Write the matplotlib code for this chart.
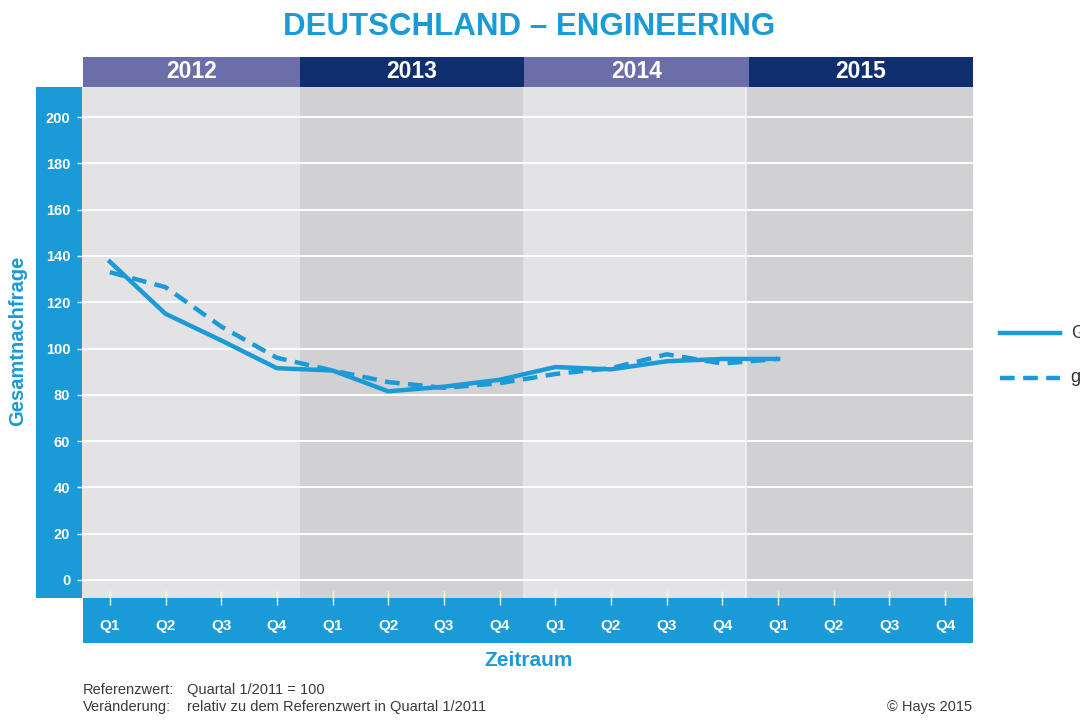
import matplotlib.pyplot as plt
from matplotlib.patches import Rectangle
from matplotlib.lines import Line2D

plt.rcParams['font.family'] = ['Liberation Sans', 'DejaVu Sans']

# Daten
jahre = ['2012', '2013', '2014', '2015']
quartale = ['Q1', 'Q2', 'Q3', 'Q4'] * 4
gesamt = [137.5, 115, 103.5, 91.5, 90.5, 81.5, 83.5, 86.5, 92, 91, 94.5, 95.5, 95.5]
gleitend = [133, 126.5, 109.5, 96, 90.5, 85.5, 83, 85, 89, 91.5, 97.5, 93.5, 95.5]
y_ticks = [0, 20, 40, 60, 80, 100, 120, 140, 160, 180, 200]

blau = '#1a9ad7'
kopf_farben = ['#6b6ea8', '#0f2f6f', '#6b6ea8', '#0f2f6f']
band_farben = ['#e3e3e5', '#d1d1d3', '#e3e3e5', '#d1d1d3']

W, H = 1080, 720
fig = plt.figure(figsize=(W / 100, H / 100), dpi=100)

def fx(x):
    return x / W

def fy(y):
    return 1 - y / H

# Plotbereich: x 82..973, y 87..598
ax = fig.add_axes([fx(82), fy(598), fx(973) - fx(82), fy(87) - fy(598)])
ax.set_xlim(-0.5, 15.5)
ax.set_ylim(-7.8, 213)

for i, farbe in enumerate(band_farben):
    links = -0.5 if i == 0 else i * 4 - 0.58
    rechts = 15.5 if i == 3 else i * 4 + 3.42
    ax.axvspan(links, rechts, color=farbe, zorder=0, lw=0)

for t in y_ticks:
    ax.axhline(t, color='white', lw=1.4, zorder=1)
ax.axvline(11.42, color='#f2f2f2', lw=1.2, zorder=1)

ax.plot(range(len(gesamt)), gesamt, color=blau, lw=3.2, zorder=3,
        solid_joinstyle='round')
ax.plot(range(len(gleitend)), gleitend, color=blau, lw=3.2, zorder=3,
        dashes=(3.3, 1.9))

for s in ax.spines.values():
    s.set_visible(False)

ax.set_yticks(y_ticks)
ax.set_yticklabels([str(t) for t in y_ticks], color='white',
                   fontweight='bold', fontsize=10.5)
ax.tick_params(axis='y', direction='inout', length=7, width=1,
               color='white', pad=5)
ax.set_xticks(range(16))
ax.set_xticklabels(quartale, color='white', fontweight='bold', fontsize=11)
ax.tick_params(axis='x', direction='inout', length=10, width=1,
               color='white', pad=10)

# blaue Balken links und unten
fig.add_artist(Rectangle((fx(36), fy(598)), fx(82) - fx(36), fy(87) - fy(598),
                         transform=fig.transFigure, color=blau, zorder=-1, lw=0))
fig.add_artist(Rectangle((fx(83), fy(643)), fx(973) - fx(83), fy(598) - fy(643),
                         transform=fig.transFigure, color=blau, zorder=-1, lw=0))

# Jahreskopf (Grenzen wie die Jahresbänder)
grenzen = [83, 300, 524, 749, 973]
for i, jahr in enumerate(jahre):
    x0, x1 = grenzen[i], grenzen[i + 1]
    fig.add_artist(Rectangle((fx(x0), fy(87)), fx(x1 - x0), fy(57) - fy(87),
                             transform=fig.transFigure, color=kopf_farben[i], lw=0))
    fig.text(fx((x0 + x1) / 2), fy(72), jahr, color='white', fontsize=16.5,
             fontweight='bold', ha='center', va='center')

fig.text(fx(529), fy(27), 'DEUTSCHLAND – ENGINEERING', color=blau, fontsize=22.5,
         fontweight='bold', ha='center', va='center')
fig.text(fx(18), fy(341), 'Gesamtnachfrage', color=blau, fontsize=14.5,
         fontweight='bold', ha='center', va='center', rotation=90)
fig.text(fx(529), fy(660), 'Zeitraum', color=blau, fontsize=15,
         fontweight='bold', ha='center', va='center')

# Legende (rechts abgeschnitten wie im Original)
fig.add_artist(Line2D([fx(1000), fx(1060)], [fy(333), fy(333)], color=blau, lw=3.2,
                      transform=fig.transFigure))
fig.add_artist(Line2D([fx(1000), fx(1060)], [fy(378), fy(378)], color=blau, lw=3.2,
                      dashes=(3.3, 1.9), transform=fig.transFigure))
fig.text(fx(1071), fy(333), 'Gesamt', color='#333333', fontsize=13,
         ha='left', va='center')
fig.text(fx(1071), fy(378), 'gleitender Durchschnitt', color='#333333', fontsize=13,
         ha='left', va='center')

# Fußzeile
grau = '#3a3a3a'
fig.text(fx(83), fy(690), 'Referenzwert:', color=grau, fontsize=10.5, va='center')
fig.text(fx(187), fy(690), 'Quartal 1/2011 = 100', color=grau, fontsize=10.5, va='center')
fig.text(fx(83), fy(707), 'Veränderung:', color=grau, fontsize=10.5, va='center')
fig.text(fx(187), fy(707), 'relativ zu dem Referenzwert in Quartal 1/2011', color=grau,
         fontsize=10.5, va='center')
fig.text(fx(972), fy(707), '© Hays 2015', color=grau, fontsize=10.5, ha='right',
         va='center')

fig.savefig('out.png', dpi=100)
